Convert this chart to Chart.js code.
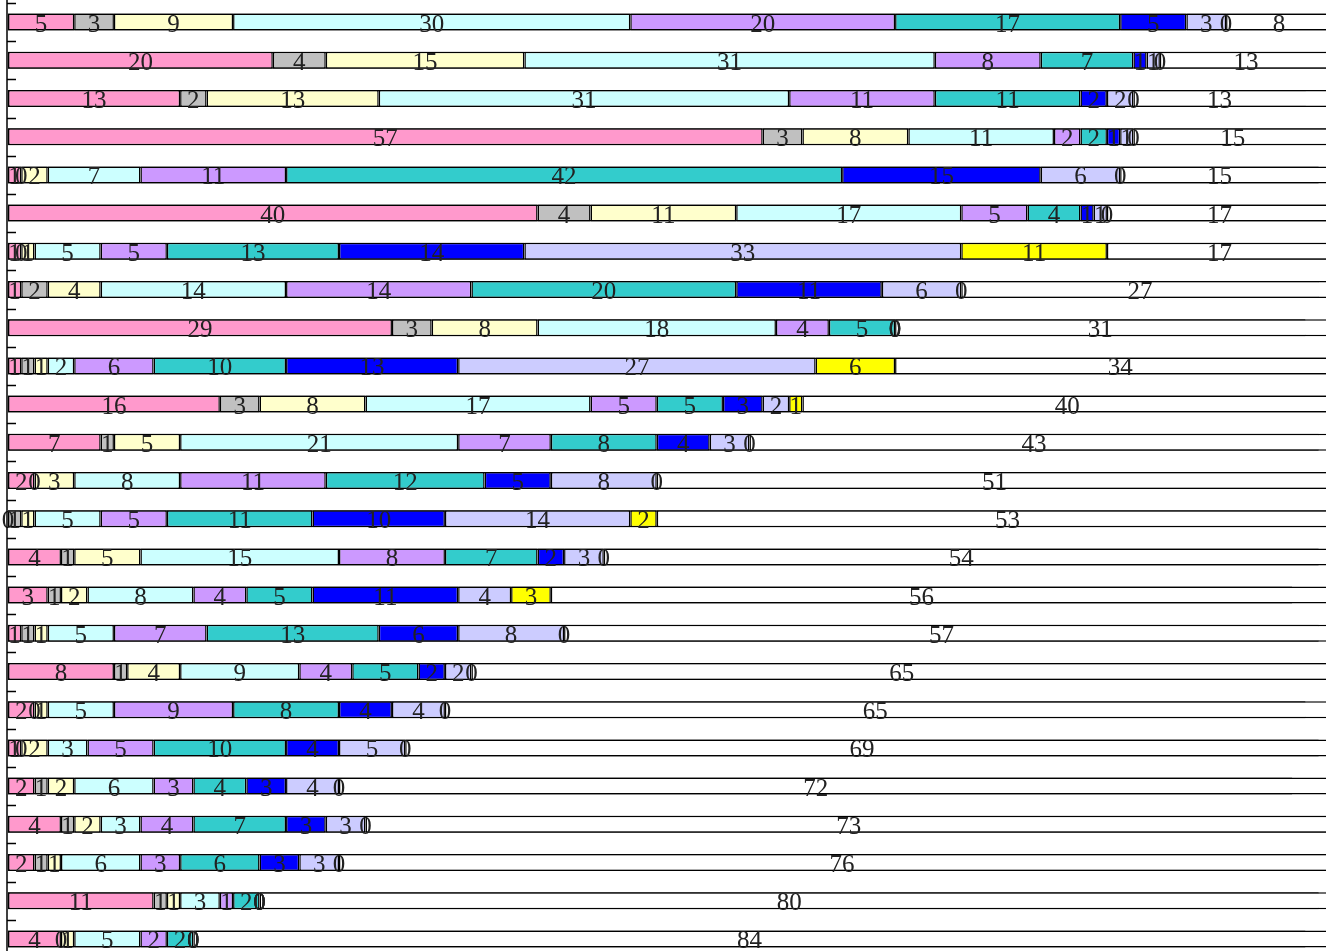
<!DOCTYPE html>
<html>
<head>
<meta charset="utf-8">
<script src="https://cdn.jsdelivr.net/npm/chart.js@4/dist/chart.umd.min.js"></script>
<style>
  html, body { margin: 0; padding: 0; background: #ffffff; overflow: hidden; }
  #wrap { width: 1333px; height: 960px; }
</style>
</head>
<body>
<div id="wrap"><canvas id="c" width="1333" height="960"></canvas></div>
<script>
// One row per group, stacked shares (rounded) of a 100 scale
const categories = ['1','2','3','4','5','6','7','8','9','10','11','12','13','14','15','16','17','18','19','20','21','22','23','24','25'];

const seriesA = [5, 20, 13, 57, 1, 40, 1, 1, 29, 1, 16, 7, 2, 0, 4, 3, 1, 8, 2, 1, 2, 4, 2, 11, 4];
const seriesB = [3, 4, 2, 3, 0, 4, 0, 2, 3, 1, 3, 1, 0, 1, 1, 1, 1, 1, 0, 0, 1, 1, 1, 1, 0];
const seriesC = [9, 15, 13, 8, 2, 11, 1, 4, 8, 1, 8, 5, 3, 1, 5, 2, 1, 4, 1, 2, 2, 2, 1, 1, 1];
const seriesD = [30, 31, 31, 11, 7, 17, 5, 14, 18, 2, 17, 21, 8, 5, 15, 8, 5, 9, 5, 3, 6, 3, 6, 3, 5];
const seriesE = [20, 8, 11, 2, 11, 5, 5, 14, 4, 6, 5, 7, 11, 5, 8, 4, 7, 4, 9, 5, 3, 4, 3, 1, 2];
const seriesF = [17, 7, 11, 2, 42, 4, 13, 20, 5, 10, 5, 8, 12, 11, 7, 5, 13, 5, 8, 10, 4, 7, 6, 2, 2];
const seriesG = [5, 1, 2, 1, 15, 1, 14, 11, 0, 13, 3, 4, 5, 10, 2, 11, 6, 2, 4, 4, 3, 3, 3, 0, 0];
const seriesH = [3, 1, 2, 1, 6, 1, 33, 6, 0, 27, 2, 3, 8, 14, 3, 4, 8, 2, 4, 5, 4, 3, 3, 0, 0];
const seriesI = [0, 0, 0, 0, 0, 0, 11, 0, 0, 6, 1, 0, 0, 2, 0, 3, 0, 0, 0, 0, 0, 0, 0, 0, 0];
const remainder = [8, 13, 13, 15, 15, 17, 17, 27, 31, 34, 40, 43, 51, 53, 54, 56, 57, 65, 65, 69, 72, 73, 76, 80, 84];

// Full length of every row (the value axis runs 0..100)
const scaleMax = 100;

const seriesValues = [seriesA, seriesB, seriesC, seriesD, seriesE, seriesF, seriesG, seriesH, seriesI, remainder];
const seriesColors = ['#ff99cc', '#c0c0c0', '#ffffcc', '#ccffff', '#cc99ff', '#33cccc', '#0000ff', '#ccccff', '#ffff00', '#ffffff'];

const barShape = {
  borderColor: '#000000',
  borderWidth: 1.5,
  categoryPercentage: 1,
  barPercentage: 0.445,
  stack: 'shares',
  order: 0
};

const datasets = seriesValues.map((vals, i) => Object.assign({}, barShape, {
  data: vals,
  backgroundColor: seriesColors[i],
  borderSkipped: i === seriesValues.length - 1 ? 'end' : false,
  showValues: true
}));

// White outlined track behind each row, drawn first
datasets.push(Object.assign({}, barShape, {
  data: categories.map(() => scaleMax),
  backgroundColor: '#ffffff',
  borderSkipped: false,
  stack: 'track',
  grouped: false,
  order: 1,
  showValues: false
}));

// Left axis line with short inward tick marks at each row boundary
const axisPlugin = {
  id: 'leftAxis',
  afterDraw(chart) {
    const { ctx } = chart;
    const y = chart.scales.y;
    const left = chart.chartArea.left - 1;
    const band = (y.bottom - y.top) / categories.length;
    ctx.save();
    ctx.strokeStyle = '#000000';
    ctx.lineWidth = 1.5;
    ctx.beginPath();
    ctx.moveTo(left, y.top - 5);
    ctx.lineTo(left, y.bottom + 5);
    ctx.stroke();
    for (let i = 0; i <= categories.length; i++) {
      const ty = Math.round(y.top + i * band) + 0.5;
      ctx.beginPath();
      ctx.moveTo(left, ty);
      ctx.lineTo(left + 9, ty);
      ctx.stroke();
    }
    ctx.restore();
  }
};

// Value text centred in every stacked segment
const valuePlugin = {
  id: 'segmentValues',
  afterDatasetsDraw(chart) {
    const { ctx } = chart;
    ctx.save();
    ctx.font = '25px "Liberation Serif", "DejaVu Serif", serif';
    ctx.textAlign = 'center';
    ctx.textBaseline = 'alphabetic';
    ctx.fillStyle = '#222222';
    chart.data.datasets.forEach((ds, di) => {
      if (!ds.showValues) return;
      const meta = chart.getDatasetMeta(di);
      meta.data.forEach((el, i) => {
        const x = (el.x + el.base) / 2;
        ctx.fillText(String(ds.data[i]), x, el.y + 9.5);
      });
    });
    ctx.restore();
  }
};

new Chart(document.getElementById('c'), {
  type: 'bar',
  data: { labels: categories, datasets: datasets },
  options: {
    indexAxis: 'y',
    responsive: false,
    animation: false,
    devicePixelRatio: 1,
    layout: { padding: { left: 8, top: 3, right: 1, bottom: 2 } },
    plugins: { legend: { display: false }, tooltip: { enabled: false } },
    scales: {
      x: { stacked: true, min: 0, max: scaleMax, display: false },
      y: { stacked: true, display: false }
    }
  },
  plugins: [axisPlugin, valuePlugin]
});
</script>
</body>
</html>
